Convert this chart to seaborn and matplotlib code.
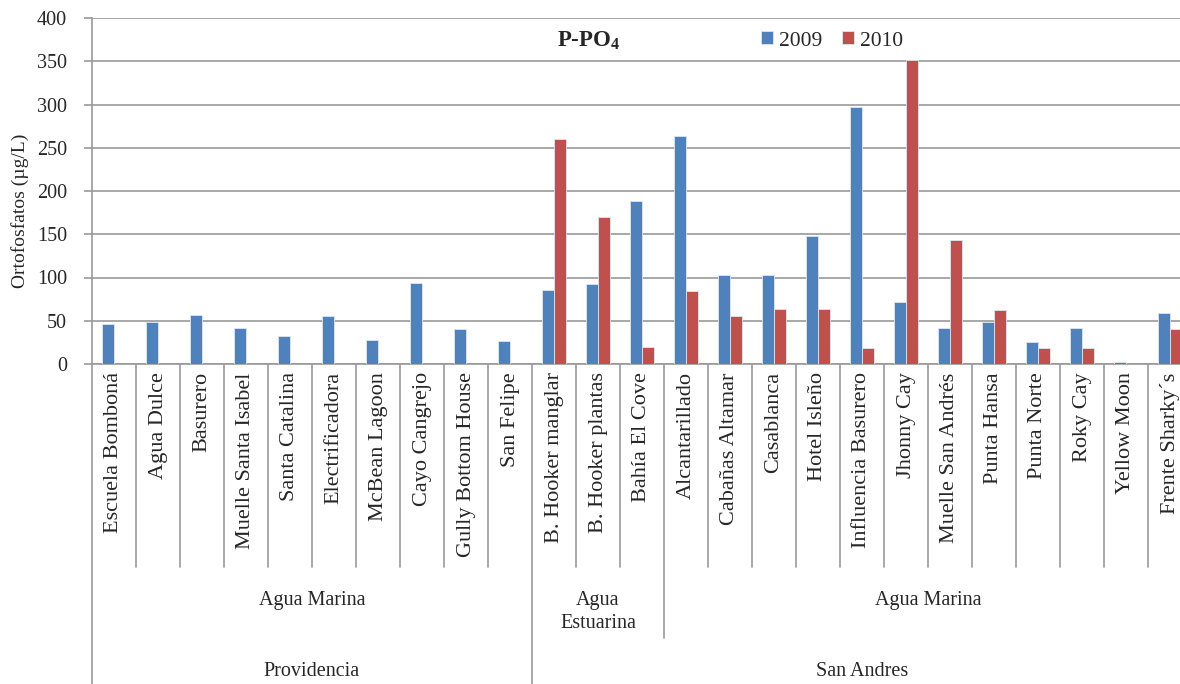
import pandas as pd
import matplotlib
matplotlib.use('Agg')
import matplotlib.pyplot as plt
import seaborn as sns

# station names (first level of the category axis)
stations = ['Escuela Bomboná', 'Agua Dulce', 'Basurero', 'Muelle Santa Isabel',
            'Santa Catalina', 'Electrificadora', 'McBean Lagoon', 'Cayo Cangrejo',
            'Gully Bottom House', 'San Felipe',
            'B. Hooker manglar', 'B. Hooker plantas', 'Bahía El Cove',
            'Alcantarillado', 'Cabañas Altamar', 'Casablanca', 'Hotel Isleño',
            'Influencia Basurero', 'Jhonny Cay', 'Muelle San Andrés', 'Punta Hansa',
            'Punta Norte', 'Roky Cay', 'Yellow Moon', 'Frente Sharky´s']

# P-PO4 values (None = no sample)
v2009 = [46, 49, 57, 42, 32, 55, 28, 94, 40, 27,
         86, 93, 188,
         264, 103, 103, 148, 297, 72, 42, 49, 25, 42, 2.5, 59]
v2010 = [None] * 10 + [260, 170, 20,
                       84, 55, 64, 64, 19, 351, 143, 62, 19, 19, 0, 41]

# upper levels of the category axis
water_types = ['Agua Marina', 'Agua\nEstuarina', 'Agua Marina']
water_counts = [10, 3, 12]
islands = ['Providencia', 'San Andres']
island_counts = [10, 15]

years = ['2009', '2010']
colors = ['#4F81BD', '#C0504D']

rows = []
for s, a, b in zip(stations, v2009, v2010):
    if a is not None:
        rows.append({'estacion': s, 'anio': '2009', 'valor': a})
    if b is not None:
        rows.append({'estacion': s, 'anio': '2010', 'valor': b})
df = pd.DataFrame(rows)

sns.set_theme(style='white')
plt.rcParams['font.family'] = ['Liberation Serif', 'DejaVu Serif']
plt.rcParams['mathtext.fontset'] = 'custom'
plt.rcParams['mathtext.rm'] = 'Liberation Serif'
plt.rcParams['mathtext.bf'] = 'Liberation Serif:bold'

grey = '#999999'
W, H = 1180, 684
fig = plt.figure(figsize=(W / 100, H / 100), dpi=100)
# axes runs past the right border, like the cropped original
ax = fig.add_axes([92 / W, 1 - 364 / H, 1100 / W, 346 / H])

sns.barplot(data=df, x='estacion', y='valor', hue='anio', order=stations,
            hue_order=years, palette=colors, saturation=1, width=0.545,
            linewidth=0.6, edgecolor='#dfe6f0', ax=ax)

handles, labels = ax.get_legend_handles_labels()
ax.get_legend().remove()

ax.set_xlim(-0.5, len(stations) - 0.5)
ax.set_ylim(0, 400)
ax.set_yticks(range(0, 401, 50))
ax.yaxis.grid(True, color=grey, linewidth=1.2)
ax.set_axisbelow(True)
for side in ['top', 'right']:
    ax.spines[side].set_visible(False)
for side in ['left', 'bottom']:
    ax.spines[side].set_color(grey)
    ax.spines[side].set_linewidth(1.2)
    ax.spines[side].set_zorder(0.5)

ax.tick_params(axis='y', left=True, length=6, width=1.2, color=grey,
               labelsize=14.5, pad=12)
ax.set_xticks(range(len(stations)))
ax.set_xticklabels(stations, rotation=90, fontsize=16)
ax.tick_params(axis='x', bottom=False, length=0, pad=6)
ax.set_xlabel('')
ax.set_ylabel('')
fig.text(20 / W, 1 - 211 / H, 'Ortofosfatos (µg/L)', rotation=90,
         ha='center', va='center', fontsize=14)

# dividers of the multi-level category axis
tr = ax.get_xaxis_transform()
y_lvl1, y_lvl2, y_lvl3 = -0.587, -0.792, -1.0
water_edges = [sum(water_counts[:i]) - 0.5 for i in range(len(water_counts) + 1)]
island_edges = [sum(island_counts[:i]) - 0.5 for i in range(len(island_counts) + 1)]
for i in range(len(stations) + 1):
    x = i - 0.5
    bottom = y_lvl1
    if x in water_edges:
        bottom = y_lvl2
    if x in island_edges:
        bottom = y_lvl3
    ax.plot([x, x], [0, bottom], transform=tr, color=grey, linewidth=1.2,
            clip_on=False)

start = 0
for name, n in zip(water_types, water_counts):
    ax.text(start + (n - 1) / 2, -0.655, name, transform=tr, ha='center',
            va='top', fontsize=14.5, linespacing=1.3)
    start += n
start = 0
for name, n in zip(islands, island_counts):
    ax.text(start + (n - 1) / 2, -0.89, name, transform=tr, ha='center',
            va='center', fontsize=14.5)
    start += n

# title and legend inside the plot area
fig.text(557 / W, 1 - 41 / H, r'P-PO$_\mathbf{4}$', ha='left', va='center',
         fontsize=16.5, fontweight='bold')
fig.legend(handles, labels, loc='center', bbox_to_anchor=(832 / W, 1 - 41 / H),
           ncol=2, frameon=False, fontsize=15.5, handlelength=0.55,
           handleheight=0.55, handletextpad=0.3, columnspacing=0.9)

fig.savefig('out.png', dpi=100)
